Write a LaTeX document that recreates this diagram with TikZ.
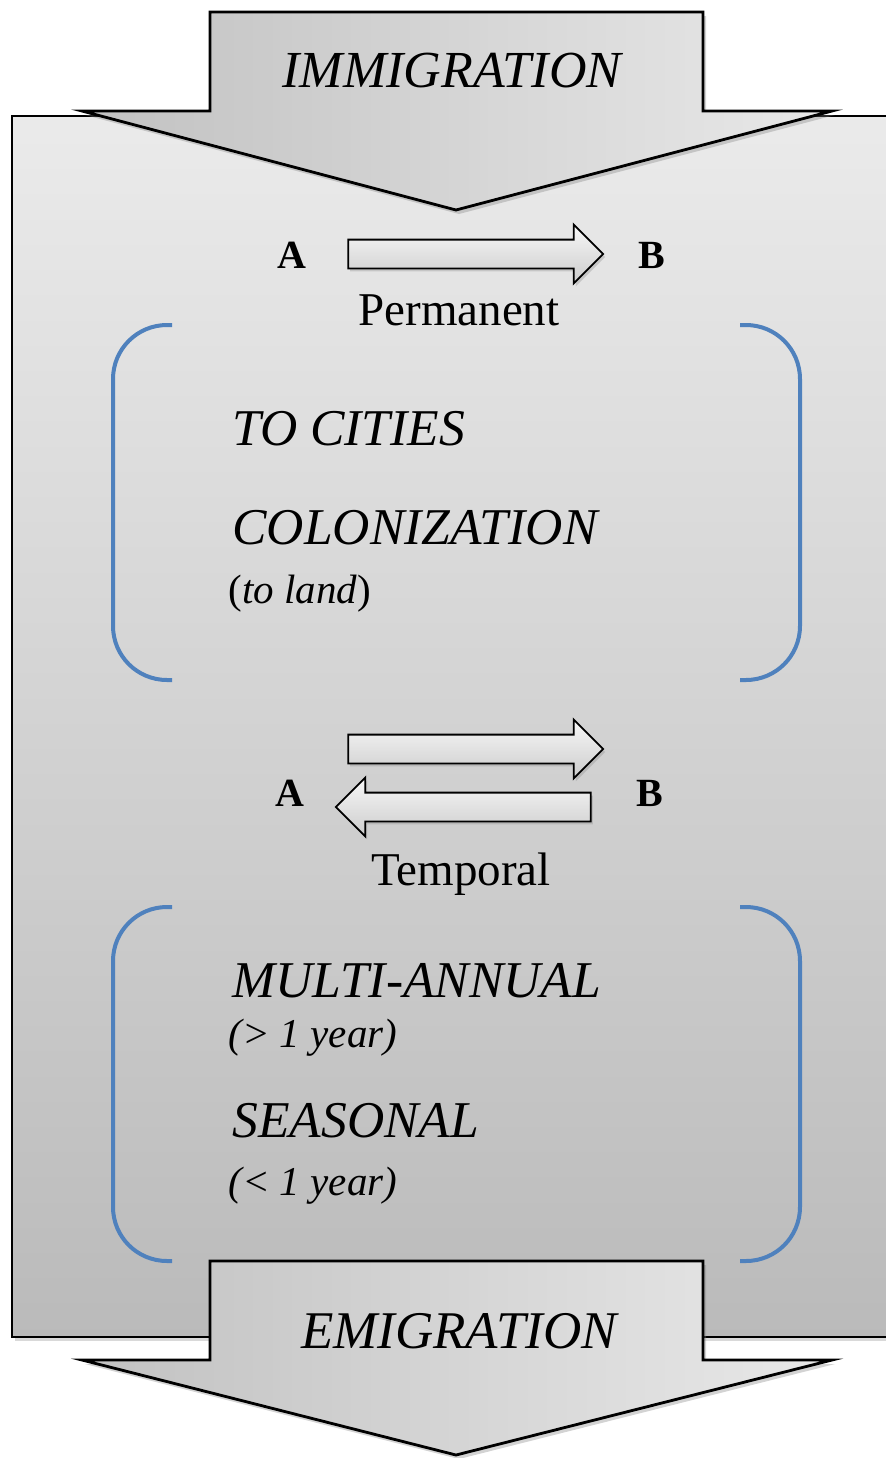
\documentclass[tikz,border=0pt]{standalone}
\usepackage{fontspec}
\setmainfont{Liberation Serif}
\definecolor{bracketblue}{RGB}{79,129,189}
\tikzstyle{panel}=[draw=black,line width=1.3pt,top color=black!8,bottom color=black!27,
drop shadow={shadow xshift=1.5pt,shadow yshift=-2pt,opacity=0.3}]
\tikzstyle{bigarrow}=[draw=black,line width=1.4pt,left color=black!24,right color=black!9,
drop shadow={shadow xshift=1.5pt,shadow yshift=-2pt,opacity=0.35}]
\tikzstyle{flow}=[single arrow,draw=black,line width=0.9pt,top color=black!3,bottom color=black!20,
minimum height=127.5pt,inner sep=6.75pt,single arrow head extend=7.5pt,
drop shadow={shadow xshift=1pt,shadow yshift=-1.5pt,opacity=0.3}]
\tikzstyle{bracket}=[draw=bracketblue,line width=2pt,rounded corners=27pt]
\tikzstyle{head}=[font=\fontsize{26}{30}\selectfont\itshape,anchor=base,inner sep=0pt]
\tikzstyle{kind}=[font=\fontsize{25.8}{30}\selectfont\itshape,anchor=base west,inner sep=0pt]
\tikzstyle{note}=[font=\fontsize{20.5}{24}\selectfont\itshape,anchor=base west,inner sep=0pt]
\tikzstyle{place}=[font=\fontsize{20}{24}\selectfont\bfseries,anchor=base,inner sep=0pt]
\tikzstyle{mode}=[font=\fontsize{23.5}{28}\selectfont,anchor=base,inner sep=0pt]
\usetikzlibrary{shapes.arrows,shadows}

\begin{document}
\begin{tikzpicture}[x=0.5pt,y=-0.5pt]
            \useasboundingbox (0,0) rectangle (886,1458);

            % PANEL AND BIG ARROWS

            \path[panel] (12,116) rectangle (910,1337);
            \path[bigarrow] (210,12) -- (703,12) -- (703,111) -- (832,111) -- (456,210)
                -- (82,111) -- (210,111) -- cycle;
            \path[bigarrow] (210,1261) -- (703,1261) -- (703,1360) -- (832,1360) -- (456,1455)
                -- (82,1360) -- (210,1360) -- cycle;
            \node[head] (imm) at (452,87) {IMMIGRATION};
            \node[head,font=\fontsize{26.5}{30}\selectfont\itshape] (emi) at (459,1348) {EMIGRATION};

            % PERMANENT PART

            \node[place] (a1) at (292,268) {A};
            \node[place] (b1) at (652,268) {B};
            \node[flow] (f1) at (468.5,254) {};
            \node[mode] (perm) at (459,325) {Permanent};

            \draw[bracket] (172,325) -- (113,325) -- (113,680) -- (172,680);
            \draw[bracket] (740,325) -- (800,325) -- (800,680) -- (740,680);

            \node[kind] (cities) at (232,445) {TO CITIES};
            \node[kind] (colon) at (232,544) {COLONIZATION};
            \node[note] (land) at (228,603) {\upshape(\itshape to land\upshape)};

            % TEMPORAL PART

            \node[place] (a2) at (290,806) {A};
            \node[place] (b2) at (650,806) {B};
            \node[flow] (f2) at (468.5,749) {};
            \node[flow,shape border rotate=180] (f3) at (470.5,807) {};
            \node[mode] (temp) at (461,885) {Temporal};

            \draw[bracket] (172,907) -- (113,907) -- (113,1261) -- (172,1261);
            \draw[bracket] (740,907) -- (800,907) -- (800,1261) -- (740,1261);

            \node[kind] (multi) at (232,997) {MULTI-ANNUAL};
            \node[note] (more) at (228,1047) {(> 1 year)};
            \node[kind] (seas) at (232,1137) {SEASONAL};
            \node[note] (less) at (228,1195) {(< 1 year)};

\end{tikzpicture}
\end{document}
